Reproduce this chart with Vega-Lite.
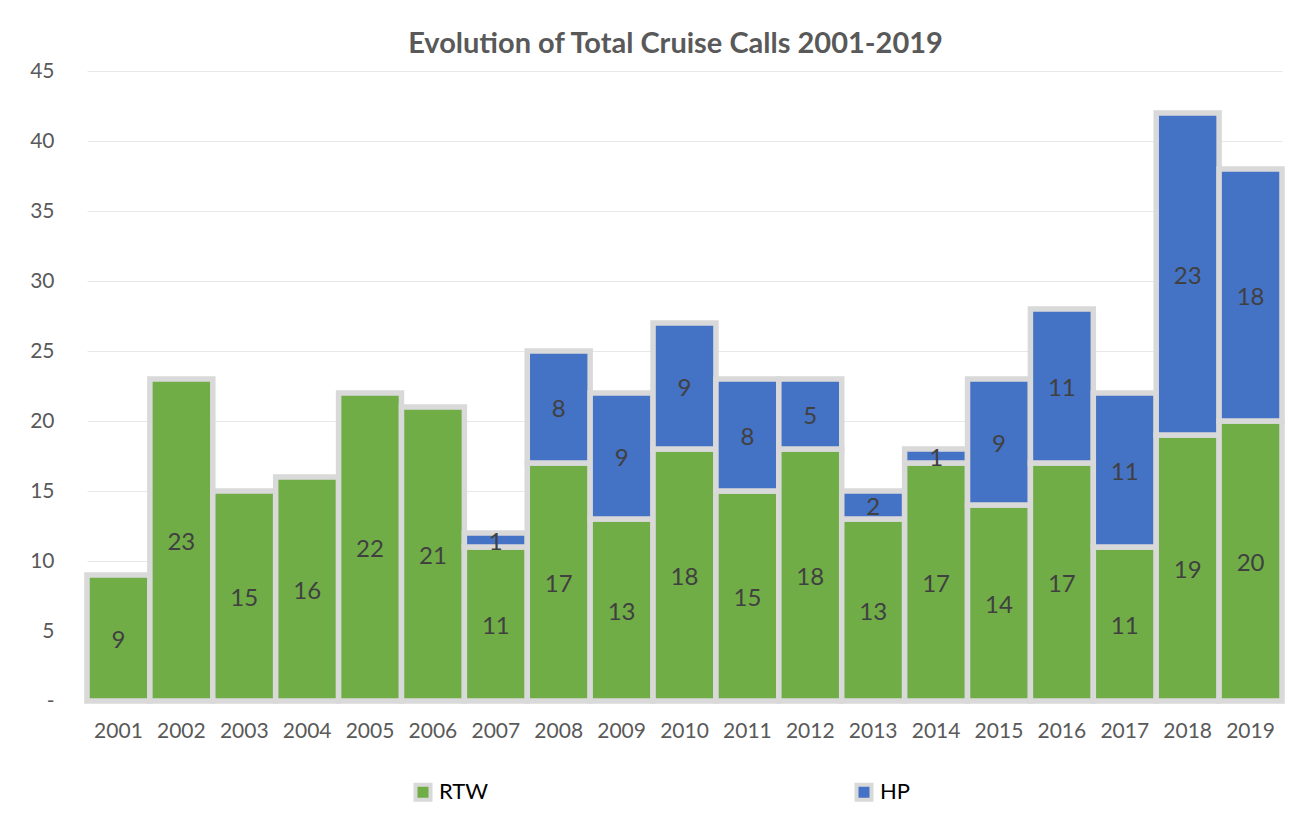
{
  "$schema": "https://vega.github.io/schema/vega-lite/v6.json",
  "autosize": {"type": "none"},
  "width": 1195,
  "height": 630,
  "padding": {"left": 87, "top": 71, "right": 20, "bottom": 118},
  "background": "#ffffff",
  "title": {
    "text": "Evolution of Total Cruise Calls 2001-2019",
    "font": "Lato",
    "fontSize": 29,
    "fontWeight": "bold",
    "color": "#595959",
    "offset": 1,
    "dx": -9
  },
  "data": {
    "values": [
      {"year": "2001", "type": "RTW", "value": 9},
      {"year": "2002", "type": "RTW", "value": 23},
      {"year": "2003", "type": "RTW", "value": 15},
      {"year": "2004", "type": "RTW", "value": 16},
      {"year": "2005", "type": "RTW", "value": 22},
      {"year": "2006", "type": "RTW", "value": 21},
      {"year": "2007", "type": "RTW", "value": 11},
      {"year": "2007", "type": "HP", "value": 1},
      {"year": "2008", "type": "RTW", "value": 17},
      {"year": "2008", "type": "HP", "value": 8},
      {"year": "2009", "type": "RTW", "value": 13},
      {"year": "2009", "type": "HP", "value": 9},
      {"year": "2010", "type": "RTW", "value": 18},
      {"year": "2010", "type": "HP", "value": 9},
      {"year": "2011", "type": "RTW", "value": 15},
      {"year": "2011", "type": "HP", "value": 8},
      {"year": "2012", "type": "RTW", "value": 18},
      {"year": "2012", "type": "HP", "value": 5},
      {"year": "2013", "type": "RTW", "value": 13},
      {"year": "2013", "type": "HP", "value": 2},
      {"year": "2014", "type": "RTW", "value": 17},
      {"year": "2014", "type": "HP", "value": 1},
      {"year": "2015", "type": "RTW", "value": 14},
      {"year": "2015", "type": "HP", "value": 9},
      {"year": "2016", "type": "RTW", "value": 17},
      {"year": "2016", "type": "HP", "value": 11},
      {"year": "2017", "type": "RTW", "value": 11},
      {"year": "2017", "type": "HP", "value": 11},
      {"year": "2018", "type": "RTW", "value": 19},
      {"year": "2018", "type": "HP", "value": 23},
      {"year": "2019", "type": "RTW", "value": 20},
      {"year": "2019", "type": "HP", "value": 18}
    ]
  },
  "transform": [
    {"stack": "value", "groupby": ["year"], "sort": [{"field": "type", "order": "descending"}], "as": ["v0", "v1"]},
    {"calculate": "(datum.v0 + datum.v1) / 2", "as": "mid"}
  ],
  "encoding": {
    "x": {
      "field": "year",
      "type": "ordinal",
      "scale": {"paddingInner": 0, "paddingOuter": 0},
      "axis": {
        "title": null,
        "labelAngle": 0,
        "labelFont": "Lato",
        "labelFontSize": 21,
        "labelColor": "#595959",
        "labelPadding": 19,
        "ticks": false,
        "domain": false,
        "grid": false
      }
    }
  },
  "layer": [
    {
      "mark": {"type": "bar", "stroke": "#d9d9d9", "strokeWidth": 5.5, "strokeJoin": "miter"},
      "encoding": {
        "y": {
          "field": "v0",
          "type": "quantitative",
          "scale": {"domain": [0, 45], "nice": false},
          "axis": {
            "title": null,
            "values": [0, 5, 10, 15, 20, 25, 30, 35, 40, 45],
            "labelExpr": "datum.value == 0 ? '-' : datum.label",
            "labelFont": "Lato",
            "labelFontSize": 21,
            "labelColor": "#595959",
            "labelPadding": 33,
            "ticks": false,
            "domain": false,
            "grid": true,
            "gridColor": "#e8e8e8",
            "gridWidth": 1
          }
        },
        "y2": {"field": "v1"},
        "color": {
          "field": "type",
          "type": "nominal",
          "scale": {"domain": ["RTW", "HP"], "range": ["#70ad47", "#4472c4"]},
          "legend": {
            "title": null,
            "orient": "none",
            "legendX": 325,
            "legendY": 710,
            "direction": "horizontal",
            "padding": 0,
            "symbolType": "square",
            "symbolSize": 225,
            "symbolStrokeColor": "#d9d9d9",
            "symbolStrokeWidth": 4,
            "symbolOpacity": 1,
            "labelFont": "Lato",
            "labelFontSize": 22,
            "labelColor": "#000000",
            "labelOffset": 5,
            "columnPadding": 359
          }
        }
      }
    },
    {
      "mark": {"type": "text", "font": "Lato", "fontSize": 24, "color": "#404040", "baseline": "middle", "align": "center", "dy": 3},
      "encoding": {
        "y": {"field": "mid", "type": "quantitative"},
        "text": {"field": "value", "type": "quantitative"}
      }
    }
  ],
  "config": {
    "view": {"stroke": null}
  }
}
